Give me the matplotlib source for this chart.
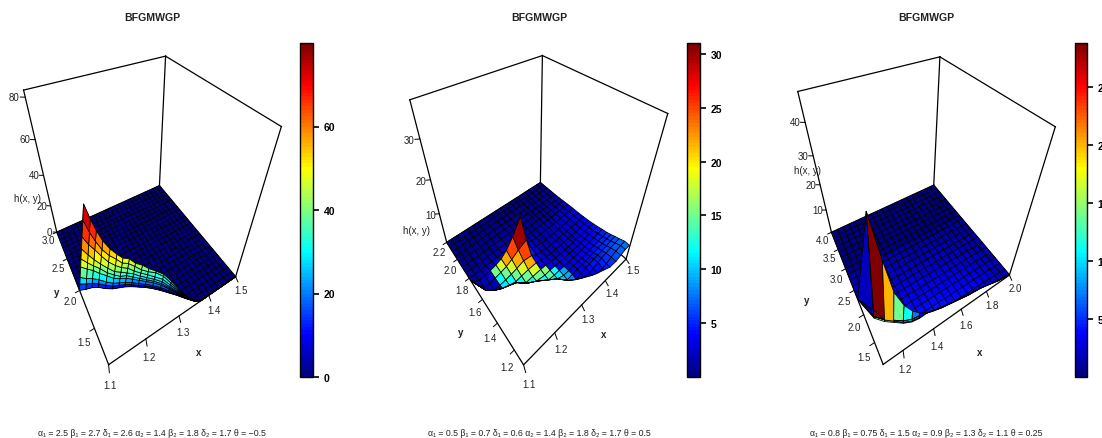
import numpy as np
import matplotlib
matplotlib.use("Agg")
import matplotlib.pyplot as plt
from matplotlib.cm import ScalarMappable
from matplotlib.colors import LinearSegmentedColormap, Normalize
from mpl_toolkits.mplot3d import proj3d

plt.rcParams['font.family'] = ['Liberation Sans', 'DejaVu Sans']

FIG_W, FIG_H = 1102, 439
TITLE = "BFGMWGP"
jet_col = LinearSegmentedColormap.from_list(
    "jet_col",
    ["#00007F", "blue", "#007FFF", "cyan", "#7FFF7F", "yellow", "#FF7F00", "red", "#7F0000"],
    N=100,
)

# ---- panel 1 ----
x1 = [1.1, 1.116, 1.132, 1.148, 1.164, 1.18, 1.196, 1.212, 1.228, 1.244, 1.26, 1.276, 1.292,
      1.308, 1.324, 1.34, 1.356, 1.372, 1.388, 1.404, 1.42, 1.436, 1.452, 1.468, 1.484, 1.5]
y1 = [1.1, 1.176, 1.252, 1.328, 1.404, 1.48, 1.556, 1.632, 1.708, 1.784, 1.86, 1.936, 2.012,
      2.088, 2.164, 2.24, 2.316, 2.392, 2.468, 2.544, 2.62, 2.696, 2.772, 2.848, 2.924, 3.0]
front1 = [2.0, 1.97, 1.95, 1.91, 1.85, 1.8, 1.77, 1.74, 1.7, 1.65, 1.6, 1.54, 1.47,
          1.39, 1.31, 1.22, 1.14, 1.1, 1.1, 1.1, 1.1, 1.1, 1.1, 1.1, 1.1, 1.1]
wall1 = [
    [0] * 26,
    [4.6, 3.9, 3.3, 2.7, 2.4, 2.1, 1.9, 1.7, 1.5, 1.3, 1.1, 1.1, 1.1, .7, .4, .2, .1, 0] + [0] * 8,
    [9, 7.7, 6.5, 5.5, 4.8, 4.1, 3.7, 3.4, 3, 2.6, 2.4, 2.2, 2.1, 1.5, .9, .3, .2, .1] + [0] * 8,
    [16, 14, 12, 9.8, 9, 7.5, 6.8, 6.2, 5.4, 4.8, 4.3, 4.1, 3.8, 2.7, 1.6, .6, .2, .2] + [0] * 8,
    [21, 18, 15, 13, 11, 9.8, 8.2, 8, 6.9, 6.2, 5.5, 5.2, 4.8, 3.4, 2, .7, .3, .2] + [0] * 8,
    [27, 23, 19, 16, 14, 12, 11, 9.8, 9, 7.8, 7, 6.6, 6.1, 4.3, 2.6, .9, .4, .2] + [0] * 8,
    [34, 29, 25, 21, 18, 16, 14, 13, 11, 9.8, 9, 8.2, 7.8, 5.6, 3.4, 1.1, .6, .2] + [0] * 8,
    [43, 36, 30, 25, 22, 20, 17, 16, 14, 12, 11, 11, 9.8, 7, 4.2, 1.4, .7, .3] + [0] * 8,
    [51, 43, 36, 30, 26, 23, 20, 19, 16, 15, 13, 12, 11, 8.2, 4.9, 1.6, .8, .4] + [0] * 8,
]
knots1_z = [0, .8, 3.3, 8.2, 16, 29, 51]
knots1_c = [0, .13, .25, .40, .57, .75, 1]

# ---- panel 2 ----
x2 = [1.1, 1.118, 1.136, 1.155, 1.175, 1.195, 1.215, 1.24, 1.27, 1.29, 1.31, 1.33, 1.35, 1.37,
      1.385, 1.405, 1.42, 1.44, 1.46, 1.48, 1.5]
y2 = [1.1, 1.15, 1.2, 1.24, 1.28, 1.32, 1.37, 1.42, 1.47, 1.525, 1.585, 1.65, 1.72,
      1.79, 1.85, 1.91, 1.97, 2.03, 2.09, 2.145, 2.2]
front2 = [1.76, 1.62, 1.58, 1.55, 1.53, 1.51, 1.46, 1.42, 1.37, 1.33, 1.27, 1.23, 1.2, 1.17,
          1.15, 1.13, 1.11, 1.1, 1.1, 1.1, 1.1]
z2 = [
    [.1, .1, .1, .2, .2, .3, .3, .4, .5, .6, .7, .9, 1.1, 1.4, 1.6, 2, 2.5, 3.2, 3.8, 4.4, 5.5],
    [.1, .1, .2, .2, .3, .3, .4, .5, .5, .6, .8, 1, 1.2, 1.5, 1.8, 2.3, 2.8, 3.6, 4.2, 4.8, 4.9],
    [.1, .1, .2, .3, .3, .4, .5, .5, .6, .7, .9, 1.1, 1.3, 1.7, 2, 2.7, 3.1, 3.4, 3.8, 4.1, 4.3],
    [.1, .2, .2, .3, .4, .5, .5, .6, .7, .8, 1, 1.3, 1.5, 2, 2.3, 2.4, 2.8, 3, 3.3, 3.6, 3.9],
    [.2, .2, .3, .4, .5, .5, .6, .7, .8, .9, 1.1, 1.5, 1.7, 1.9, 2, 2.1, 2.4, 2.6, 2.9, 3.2, 3.4],
    [.2, .2, .3, .4, .5, .6, .7, .8, .9, 1, 1.3, 1.4, 1.5, 1.6, 1.7, 1.8, 2, 2.2, 2.5, 2.8, 3],
    [.2, .3, .4, .5, .6, .7, .8, .9, .9, 1.2, 1.3, 1.2, 1.3, 1.4, 1.4, 1.5, 1.7, 1.9, 2.2, 2.4, 2.7],
    [.3, .3, .4, .6, .7, .8, .9, 1, 1, 1.2, 1.2, 1.1, 1.1, 1.2, 1.2, 1.3, 1.5, 1.6, 1.9, 2.1, 2.3],
    [.3, .4, .5, .7, .8, .9, 1, 1.2, 1.3, 1.3, 1.1, .9, .9, 1, 1, 1.1, 1.3, 1.4, 1.6, 1.8, 2],
    [.4, .5, .6, .8, .9, 1.1, 1.4, 1.7, 1.8, 1.3, 1, .8, .8, .9, .9, 1, 1.1, 1.2, 1.4, 1.5, 1.7],
    [.5, .6, .7, .9, 1.1, 1.5, 2, 2.8, 2.5, 1.3, .9, .7, .7, .8, .8, .9, 1, 1.1, 1.2, 1.3, 1.5],
    [.6, .7, .8, 1, 1.5, 2, 3, 4.5, 6, 1.4, .8, .6, .6, .7, .7, .8, .9, 1, 1.1, 1.2, 1.3],
    [.7, .8, 1, 1.2, 1.7, 2.4, 4, 7, 11.5, 1.5, .7, .5, .5, .6, .6, .7, .8, .9, 1, 1.1, 1.2],
    [.3, .3, .4, .4, .5, .5, .6, .8, 1.2, .7, .5, .4, .4, .5, .5, .5, .6, .7, .8, .9, 1],
    [.2, .2, .3, .3, .3, .4, .4, .5, .6, .5, .4, .3, .3, .4, .4, .4, .5, .5, .6, .7, .8],
    [.1, .2, .2, .2, .2, .3, .3, .3, .4, .3, .3, .3, .3, .3, .3, .4, .4, .4, .5, .5, .6],
    [.1, .1, .1, .2, .2, .2, .2, .2, .3, .3, .2, .2, .2, .3, .3, .3, .3, .3, .4, .4, .5],
    [.1, .1, .1, .1, .1, .1, .2, .2, .2, .2, .2, .2, .2, .2, .2, .2, .2, .3, .3, .3, .4],
    [0, .1, .1, .1, .1, .1, .1, .1, .1, .1, .1, .1, .1, .1, .1, .2, .2, .2, .2, .2, .3],
    [0, 0, 0, .1, .1, .1, .1, .1, .1, .1, .1, .1, .1, .1, .1, .1, .1, .1, .1, .2, .2],
    [0, 0, 0, 0, 0, 0, 0, 0, 0, 0, 0, 0, 0, 0, 0, 0, .1, .1, .1, .1, .1],
]
knots2_z = [0, .5, 1, 2, 5.5, 15]
knots2_c = [0, .04, .08, .13, .26, .3]
peak2 = [
    [0, 0, 15, 18, 22, 25, 30, 0, 0, 0],
    [0, 0, 12, 15, 18, 22, 25, 0, 0, 0],
    [0, 0, 11, 12, 15, 18, 22, 0, 0, 0],
    [0, 0, 11, 11, 12, 15, 18, 0, 0, 0],
    [0, 0, 0, 11, 11, 12, 15, 16, 0, 0],
    [0, 0, 0, 0, 11, 11, 12, 14, 12, 0],
    [0, 0, 0, 0, 0, 11, 11, 12, 11, 9],
    [0, 0, 0, 0, 0, 0, 11, 11, 10, 9],
    [0, 0, 0, 0, 0, 0, 0, 10, 9, 8],
]

# ---- panel 3 ----
x3 = [1.08, 1.126, 1.172, 1.218, 1.264, 1.31, 1.356, 1.402, 1.448, 1.494, 1.54, 1.586, 1.632,
      1.678, 1.724, 1.77, 1.816, 1.862, 1.908, 1.954, 2.0]
y3 = [1.15, 1.29, 1.435, 1.58, 1.72, 1.86, 2.005, 2.15, 2.29, 2.435, 2.58, 2.72, 2.86, 3.005,
      3.15, 3.29, 3.435, 3.58, 3.72, 3.86, 4.0]
front3 = [2.3, 1.85, 1.7, 1.6, 1.5, 1.44, 1.42, 1.39, 1.36, 1.33, 1.31, 1.29, 1.27, 1.25,
          1.24, 1.23, 1.21, 1.19, 1.17, 1.16, 1.15]
wall3 = [
    [0, 0, 0, 0, 0, 0, 0, 1.2, 1, 1, 1, 1, 1, 1, 1, .9, .8, .6, .4, .3, .2],
    [.3, 4, .8, .6, .5, .5, .5, 1.2, 1, 1, 1, 1, 1, 1, 1, .9, .8, .6, .4, .3, .2],
    [.3, 37, 24, 13, 8, 5, 2.5, 1.2, 1, 1, 1, 1, 1, 1, 1, .9, .8, .6, .4, .3, .2],
]
z3 = [
    [.3, .5, .7, .8, .9, 1, 1, 1, 1, 1, 1, 1, 1, 1, 1, .9, .8, .6, .4, .3, .2],
    [.3, .5, .7, .8, .9, 1, 1, 1, 1, 1, 1, 1, 1, 1, .9, .8, .7, .5, .4, .3, .2],
    [.3, .5, .7, .8, .9, 1, 1, 1, 1, 1, 1, .9, .9, .8, .8, .7, .6, .5, .4, .3, .2],
    [.3, .5, .7, .8, .9, 1, 1, .9, .9, .9, .8, .8, .7, .7, .6, .6, .5, .4, .3, .3, .2],
    [.3, .5, .7, .8, .8, .8, .8, .8, .7, .7, .7, .6, .6, .6, .5, .5, .4, .4, .3, .2, .2],
    [.3, .5, .7, .7, .7, .7, .6, .6, .6, .6, .5, .5, .5, .5, .4, .4, .4, .3, .3, .2, .2],
    [.3, .5, .5, .6, .6, .5, .5, .5, .5, .5, .4, .4, .4, .4, .4, .3, .3, .3, .2, .2, .2],
    [.3, .4, .4, .5, .5, .4, .4, .4, .4, .4, .4, .3, .3, .3, .3, .3, .3, .2, .2, .2, .2],
    [.3, .3, .3, .4, .4, .4, .3, .3, .3, .3, .3, .3, .3, .3, .3, .2, .2, .2, .2, .2, .1],
    [.3, .3, .3, .3, .3, .3, .3, .3, .3, .3, .2, .2, .2, .2, .2, .2, .2, .2, .1, .1, .1],
    [.2, .2, .2, .2, .3, .3, .3, .2, .2, .2, .2, .2, .2, .2, .2, .2, .1, .1, .1, .1, .1],
    [.2, .2, .2, .2, .2, .2, .2, .2, .2, .2, .1, .1, .1, .1, .1, .1, .1, .1, .1, .1, .1],
]
knots3_z = [0, .1, .3, .5, 1, 29]
knots3_c = [.005, .03, .06, .09, .14, 1]
peak3 = [
    [2, 14, 10, 6, 4, 3, 0],
    [2, 29, 20, 14, 11, 7, 4],
    [2, 29, 20, 14, 11, 7, 4],
]

panels = [
    dict(x=x1, y=y1, front=front1, wall=wall1, z=np.zeros((26, 26)), zlim=83, shear=0.0009,
         knots_z=knots1_z, knots_c=knots1_c, vmin=0, vmax=80, peak=None, peak_at=None,
         x_ticks=[1.1, 1.2, 1.3, 1.4, 1.5], y_ticks=[1.5, 2.0, 2.5, 3.0], z_ticks=[0, 20, 40, 60, 80],
         bar_ticks=[0, 20, 40, 60], elev=39.958, azim=-120.109, focal=0.2927,
         box=(1.6386, 1.6319, 1.6287), rect=(51.2, 137.3, 173.6, 210.0), bar=(300, 313),
         title_x=152, sub="α₁ = 2.5 β₁ = 2.7 δ₁ = 2.6 α₂ = 1.4 β₂ = 1.8 δ₂ = 1.7 θ = −0.5",
         x_name=(199, 353), y_name=(57, 293), z_name=(27, 199)),
    dict(x=x2, y=y2, front=front2, wall=None, z=np.array(z2, float), zlim=38, shear=0,
         knots_z=knots2_z, knots_c=knots2_c, vmin=0, vmax=31, peak=peak2, peak_at=(11, 1, -1),
         x_ticks=[1.1, 1.2, 1.3, 1.4, 1.5], y_ticks=[1.2, 1.4, 1.6, 1.8, 2.0, 2.2], z_ticks=[10, 20, 30],
         bar_ticks=[5, 10, 15, 20, 25, 30], elev=40.033, azim=-129.685, focal=0.4142,
         box=(2.2997, 2.3246, 2.3097), rect=(472.4, 171.7, 120.2, 145.9), bar=(687, 700),
         title_x=539, sub="α₁ = 0.5 β₁ = 0.7 δ₁ = 0.6 α₂ = 1.4 β₂ = 1.8 δ₂ = 1.7 θ = 0.5",
         x_name=(604, 335), y_name=(461, 333), z_name=(416, 231)),
    dict(x=x3, y=y3, front=front3, wall=wall3, z=np.vstack([z3, np.zeros((9, 21))]), zlim=48, shear=0.001,
         knots_z=knots3_z, knots_c=knots3_c, vmin=0, vmax=28.8, peak=peak3, peak_at=(0, 0, 1),
         x_ticks=[1.2, 1.4, 1.6, 1.8, 2.0], y_ticks=[1.5, 2.0, 2.5, 3.0, 3.5, 4.0], z_ticks=[10, 20, 30, 40],
         bar_ticks=[5, 10, 15, 20, 25], elev=40.203, azim=-120.390, focal=0.5987,
         box=(3.4145, 3.3637, 3.3532), rect=(872.0, 193.0, 83.3, 101.2), bar=(1075, 1087),
         title_x=926, sub="α₁ = 0.8 β₁ = 0.75 δ₁ = 1.5 α₂ = 0.9 β₂ = 1.3 δ₂ = 1.1 θ = 0.25",
         x_name=(980, 353), y_name=(807, 301), z_name=(808, 171)),
]

fig = plt.figure(figsize=(FIG_W / 100, FIG_H / 100), dpi=100)


def fig_text(px, py, s, **kw):
    fig.text(px / FIG_W, 1 - py / FIG_H, s, ha="center", va="center", **kw)


def cell_colours(z, p):
    cells = (z[:-1, :-1] + z[1:, :-1] + z[:-1, 1:] + z[1:, 1:]) / 4
    c = np.interp(cells, p["knots_z"], p["knots_c"])
    if p["peak"] is not None:
        row0, col0, step = p["peak_at"]
        for k, row in enumerate(p["peak"]):
            for n, val in enumerate(row):
                if val > 0:
                    c[row0 + step * k, col0 + n] = val / p["vmax"]
    rgba = np.ones(z.shape + (4,))
    rgba[:-1, :-1] = jet_col(c)
    return rgba


def draw_panel(p):
    xs, ys, front = np.array(p["x"]), np.array(p["y"]), np.array(p["front"])
    x0, x1_, y0, y1_ = xs[0], xs[-1], ys[0], ys[-1]
    zmax = p["zlim"]

    l, b, w, h = p["rect"]
    ax = fig.add_axes([l / FIG_W, b / FIG_H, w / FIG_W, h / FIG_H], projection="3d")
    ax.apply_aspect = lambda position=None: None  # R keeps x and y scales apart
    ax.set_xticks([])
    ax.set_yticks([])
    ax.set_zticks([])
    ax.set_xlim(x0, x1_)
    ax.set_ylim(y0, y1_)
    ax.set_zlim(0, zmax)
    ax.set_box_aspect(p["box"], zoom=np.linalg.norm(p["box"]) / (1.8294640721620434 * 25 / 24))
    ax.view_init(elev=p["elev"], azim=p["azim"])
    ax.set_proj_type("persp", focal_length=p["focal"])
    ax.set_axis_off()
    ax.computed_zorder = False
    ax.patch.set_alpha(0)

    line = dict(color="black", lw=0.9, clip_on=False, zorder=1)
    for a, bb in [((x0, y1_, zmax), (x1_, y1_, zmax)), ((x1_, y1_, zmax), (x1_, y0, zmax)),
                  ((x0, y1_, 0), (x0, y1_, zmax)), ((x1_, y1_, 0), (x1_, y1_, zmax)),
                  ((x1_, y0, 0), (x1_, y0, zmax)), ((x0, y1_, 0), (x0, y0, 0)),
                  ((x0, y0, 0), (x1_, y0, 0)), ((x0, y1_, 0), (x1_, y1_, 0)), ((x1_, y1_, 0), (x1_, y0, 0))]:
        ax.plot(*zip(a, bb), **line)

    # mesh: regular rows pushed back behind the front curve, wall rows stand on it
    eps = 0.004 * (y1_ - y0)
    Y = np.maximum(ys[:, None], front[None, :] + eps)
    Z = p["z"].copy()
    # rows squeezed onto the curve take the height of the first free row, so they draw one line
    for i in range(len(xs)):
        n = int((ys < front[i] + eps).sum())
        if 0 < n < len(ys):
            Z[:n, i] = Z[n, i]
    X = np.tile(xs, (Y.shape[0], 1))
    if p["wall"] is not None:
        wall = np.array(p["wall"], float)
        Y = np.vstack([np.tile(front, (len(wall), 1)), Y])
        Z = np.vstack([wall, Z])
        X = np.vstack([xs + p["shear"] * wall, X])
    surf = ax.plot_surface(X, Y, Z, rstride=1, cstride=1, facecolors=cell_colours(Z, p),
                           shade=False, zorder=2, clip_on=False)
    surf.set_edgecolor("black")
    surf.set_linewidth(0.55)
    surf.set_zsort("max")

    M = ax.get_proj()

    def put_label(x, y, z, s):
        px, py, _ = proj3d.proj_transform(x, y, z, M)
        ax.text2D(px, py, s, transform=ax.transData, fontsize=7, color="#222222", ha="center", va="center")

    dx, dy = x1_ - x0, y1_ - y0
    tick = dict(color="black", lw=0.7, clip_on=False, zorder=1)
    for v in p["x_ticks"]:
        ax.plot([v, v - 0.012 * dx], [y0, y0 - 0.035 * dy], [0, 0], **tick)
        put_label(v - 0.03 * dx, y0 - 0.085 * dy, 0, f"{v:.1f}")
    for v in p["y_ticks"]:
        ax.plot([x0, x0 - 0.03 * dx], [v, v], [0, 0], **tick)
        put_label(x0 - 0.08 * dx, v - 0.035 * dy, 0, f"{v:.1f}")
    for v in p["z_ticks"]:
        ax.plot([x0, x0 - 0.025 * dx], [y1_, y1_ + 0.016 * dy], [v, v], **tick)
        put_label(x0 - 0.055 * dx, y1_ + 0.036 * dy, v, f"{v}")

    fig_text(*p["x_name"], "x", fontsize=7, fontweight="bold", color="#222222")
    fig_text(*p["y_name"], "y", fontsize=7, fontweight="bold", color="#222222")
    fig_text(*p["z_name"], "h(x, y)", fontsize=7, color="#222222")
    fig_text(p["title_x"], 18, TITLE, fontsize=7.6, fontweight="bold", color="#222222")
    fig_text(p["title_x"], 434, p["sub"], fontsize=6.3, color="#222222")

    left, right = p["bar"]
    cax = fig.add_axes([left / FIG_W, 1 - 378 / FIG_H, (right - left) / FIG_W, 334 / FIG_H])
    cb = fig.colorbar(ScalarMappable(Normalize(p["vmin"], p["vmax"]), jet_col), cax=cax)
    cb.set_ticks(p["bar_ticks"])
    cb.outline.set_linewidth(1.0)
    cax.tick_params(length=4, width=1.2, labelsize=7.5, pad=3.6)
    for t in cax.get_yticklabels():
        t.set_fontweight("bold")


for p in panels:
    draw_panel(p)

fig.savefig("out.png", dpi=100)
